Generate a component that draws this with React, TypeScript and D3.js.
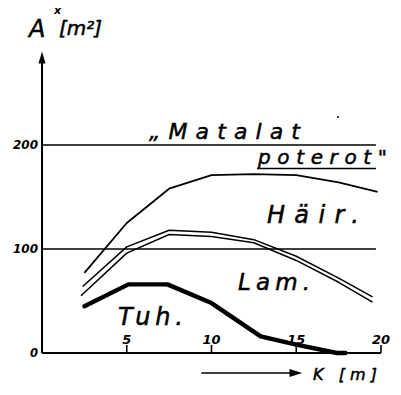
import React from "react";
import * as d3 from "d3";

const W = 401;
const H = 395;

// axis ticks
const xTicks = [5, 10, 15, 20];
const xTickLabels = ["5", "10", "15", "20"];
const yTicks = [0, 100, 200];
const yTickLabels = ["0", "100", "200"];
const gridValues = [100, 200];

// series (x in m, y in m²)
const hairX = [2.5, 5, 7.5, 10, 12.5, 15, 17.5, 19.8];
const hairY = [77, 125, 158, 171, 172, 171, 164, 155];

const lamUpperX = [2.4, 5, 7.5, 10, 12.5, 15, 17.5, 19.5];
const lamUpperY = [64, 102, 118, 116, 109, 93, 72, 54];
const lamLowerX = [2.3, 5, 7.5, 10, 12.5, 15, 17.5, 19.5];
const lamLowerY = [55, 96, 114, 112, 106, 89, 68, 49];

const tuhX = [2.5, 5.1, 7.4, 10, 12.9, 15, 17.4, 17.9];
const tuhY = [45, 66, 66, 48, 16, 8, 0, 0];

const FONT = "'DejaVu Sans', sans-serif";

export default function App() {
  const x = d3.scaleLinear().domain([0, 20]).range([42, 381]);
  const y = d3.scaleLinear().domain([0, 200]).range([353, 145]);

  const line = d3
    .line<[number, number]>()
    .x((d) => x(d[0]))
    .y((d) => y(d[1]));

  const zip = (xs: number[], ys: number[]) =>
    xs.map((v, i) => [v, ys[i]] as [number, number]);

  const x0 = x(0);
  const y0 = y(0);
  const yTop = y(290);

  const handText = {
    fontFamily: FONT,
    fontStyle: "italic" as const,
    stroke: "#000",
    strokeWidth: 0.5,
    fill: "#000",
  };

  return (
    <svg
      width={W}
      height={H}
      style={{ position: "absolute", left: 0, top: 0, background: "#fff" }}
    >
      <rect width={W} height={H} fill="#fff" />
      {/* grid lines */}
      {gridValues.map((g) => (
        <line
          key={g}
          x1={x0}
          x2={x(19.7)}
          y1={y(g)}
          y2={y(g)}
          stroke="#000"
          strokeWidth={1.7}
        />
      ))}
      {/* y axis */}
      <line x1={x0} x2={x0} y1={y0} y2={yTop + 10} stroke="#000" strokeWidth={2} />
      <path
        d={`M${x0 - 3.5},${yTop + 12} L${x0},${yTop} L${x0 + 3.5},${yTop + 12} Z`}
        fill="#000"
      />
      {/* x axis */}
      <line x1={x0} x2={x(20)} y1={y0} y2={y0} stroke="#000" strokeWidth={2} />
      {xTicks.map((t) => (
        <line
          key={t}
          x1={x(t)}
          x2={x(t)}
          y1={y0}
          y2={y0 - 8}
          stroke="#000"
          strokeWidth={1.6}
        />
      ))}
      {xTicks.map((t, i) => (
        <text
          key={"xl" + t}
          x={x(t)}
          y={y0 - 9}
          textAnchor="middle"
          fontFamily={FONT}
          fontSize={13}
          fontStyle="italic"
          fontWeight="bold"
        >
          {xTickLabels[i]}
        </text>
      ))}
      {yTicks.map((t, i) => (
        <text
          key={"yl" + t}
          x={x0 - 4}
          y={y(t) + 4}
          textAnchor="end"
          fontFamily={FONT}
          fontSize={11.5}
          fontStyle="italic"
          fontWeight="bold"
          textLength={yTickLabels[i].length > 1 ? 25 : undefined}
          lengthAdjust="spacingAndGlyphs"
        >
          {yTickLabels[i]}
        </text>
      ))}

      {/* series */}
      <path
        d={line(zip(hairX, hairY)) || ""}
        fill="none"
        stroke="#000"
        strokeWidth={1.8}
        strokeLinejoin="round"
      />
      <path
        d={line(zip(lamUpperX, lamUpperY)) || ""}
        fill="none"
        stroke="#000"
        strokeWidth={1.5}
        strokeLinejoin="round"
      />
      <path
        d={line(zip(lamLowerX, lamLowerY)) || ""}
        fill="none"
        stroke="#000"
        strokeWidth={1.5}
        strokeLinejoin="round"
      />
      <path
        d={line(zip(tuhX, tuhY)) || ""}
        fill="none"
        stroke="#000"
        strokeWidth={4.4}
        strokeLinejoin="round"
        strokeLinecap="round"
      />

      {/* y axis title */}
      <text x={29} y={37} fontSize={24} {...handText}>
        A
      </text>
      <text x={54} y={14} fontFamily={FONT} fontSize={11} fontStyle="italic" fontWeight="bold">
        x
      </text>
      <text x={59} y={35} fontSize={19} textLength={43} lengthAdjust="spacingAndGlyphs" {...handText}>
        [m²]
      </text>

      {/* x axis title with arrow */}
      <line x1={x(9.4)} x2={x(14.9)} y1={373} y2={373} stroke="#000" strokeWidth={1.6} />
      <path d={`M${x(14.6)},369 L${x(15.35)},373 L${x(14.6)},377 Z`} fill="#000" />
      <text x={313} y={380} fontSize={16} textLength={64} lengthAdjust="spacing" {...handText}>
        K [m]
      </text>

      {/* annotations */}
      <text x={149} y={139} fontSize={22} textLength={151} lengthAdjust="spacing" {...handText}>
        „Matalat
      </text>
      <text x={258} y={164} fontSize={20} textLength={129} lengthAdjust="spacing" {...handText}>
        poterot"
      </text>
      <line x1={257} x2={x(19.7)} y1={168.5} y2={168.5} stroke="#000" strokeWidth={1.6} />
      <text x={267} y={223} fontSize={24} textLength={92} lengthAdjust="spacing" {...handText}>
        Häir.
      </text>
      <text x={238} y={290} fontSize={23} textLength={72} lengthAdjust="spacing" {...handText}>
        Lam.
      </text>
      <text x={118} y={325} fontSize={24} textLength={65} lengthAdjust="spacing" {...handText}>
        Tuh.
      </text>
      <circle cx={338} cy={117} r={1} fill="#000" />
    </svg>
  );
}
